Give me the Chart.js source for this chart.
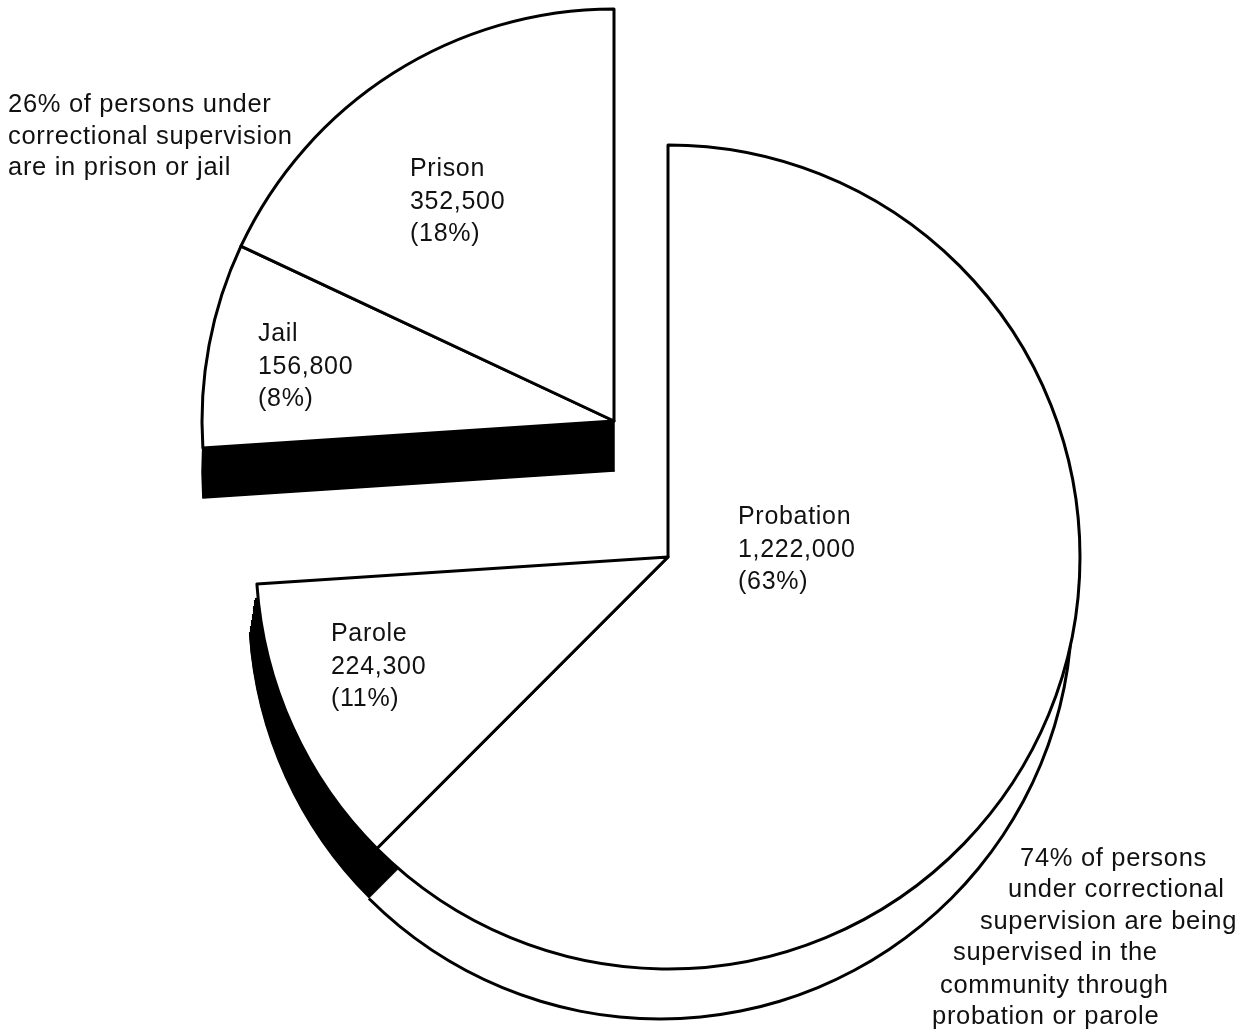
<!DOCTYPE html>
<html>
<head>
<meta charset="utf-8">
<script src="https://cdn.jsdelivr.net/npm/chart.js@4/dist/chart.umd.min.js"></script>
<style>
  html, body { margin: 0; padding: 0; width: 1247px; height: 1030px; overflow: hidden; background: #fff; }
  #stage { position: relative; width: 1247px; height: 1030px; overflow: hidden; }
  canvas.layer { position: absolute; }
  .lbl { position: absolute; font-family: "Liberation Sans", Arial, sans-serif; font-size: 25px; line-height: 32.5px; color: #111; white-space: nowrap; letter-spacing: 0.7px; }
  .note { font-size: 25.5px; letter-spacing: 0.7px; line-height: 31.5px; }
</style>
</head>
<body>
<div id="stage"></div>
<script>
// ---- data ----
const categories = ['Probation', 'Parole', 'Jail', 'Prison'];
const counts = [1222000, 224300, 156800, 352500];
const percentLabels = ['63%', '11%', '8%', '18%'];
const leftNote = ['26% of persons under', 'correctional supervision', 'are in prison or jail'];
const rightNote = ['74% of persons', 'under correctional', 'supervision are being', 'supervised in the', 'community through', 'probation or parole'];

// ---- layout (positions / styles only) ----
const R = 412;             // pie radius, px
const DEPTH = 50;          // 3D thickness, px
const MAIN_SKEW = -8;      // sideways shift of main pie's lower rim (perspective)
const BW = 3;              // outline width
const STEPS = 25;          // extrusion steps for the black parole side
const mainCenter = [668, 557];
const explodedCenter = [614, 421];
const RIM_CLIP_TOP = 570;  // lower-rim layers are only needed below this line
const labelPos = { Probation: [738, 499], Parole: [331, 616], Jail: [258, 316], Prison: [410, 151] };
const leftNotePos = [[8, 88], [8, 120], [8, 151]];
const rightNotePos = [[1020, 842], [1008, 873], [980, 905], [953, 936], [940, 969], [932, 1000]];

const stage = document.getElementById('stage');
let zCounter = 1;
const NONE = 'rgba(0,0,0,0)';

// one pie layer: show(i) -> fill colour or null, bw(i) -> border width
function addLayer(center, radius, show, bw, clipTop) {
  const size = 2 * R + 60;
  const half = size / 2;
  const top = (clipTop !== undefined) ? clipTop : center[1] - half;
  const height = Math.round(center[1] + half - top);
  const rel = center[1] - top;
  const c = document.createElement('canvas');
  c.className = 'layer';
  c.width = size; c.height = height;
  c.style.left = (center[0] - half) + 'px';
  c.style.top = top + 'px';
  c.style.zIndex = zCounter++;
  stage.appendChild(c);
  new Chart(c, {
    type: 'pie',
    data: {
      labels: categories,
      datasets: [{
        data: counts,
        backgroundColor: categories.map((_, i) => show(i) || NONE),
        borderColor: categories.map((_, i) => (show(i) && bw(i) > 0) ? '#000' : NONE),
        borderWidth: categories.map((_, i) => show(i) ? bw(i) : 0),
        borderJoinStyle: 'round',
        clip: false
      }]
    },
    options: {
      responsive: false,
      animation: false,
      events: [],
      radius: radius,
      layout: { padding: { top: 0, left: 0, right: 0, bottom: height - 2 * rel } },
      plugins: { legend: { display: false }, tooltip: { enabled: false } }
    }
  });
}

const is = name => i => categories[i] === name;
const zero = () => 0;

// ---- main pie (probation + parole) ----
const rimCenter = [mainCenter[0] + MAIN_SKEW, mainCenter[1] + DEPTH];
// probation side: white side face with outline of its lower rim
addLayer(rimCenter, R + BW / 2, i => is('Probation')(i) ? '#000' : null, zero, RIM_CLIP_TOP);
addLayer(rimCenter, R - BW / 2, i => is('Probation')(i) ? '#fff' : null, zero, RIM_CLIP_TOP);
// parole side: solid black extrusion
for (let s = 1; s <= STEPS; s++) {
  const t = s / STEPS;
  addLayer([mainCenter[0] + MAIN_SKEW * t, mainCenter[1] + DEPTH * t], R,
    i => is('Parole')(i) ? '#000' : null, zero, RIM_CLIP_TOP);
}
// top face
addLayer(mainCenter, R, i => (is('Probation')(i) || is('Parole')(i)) ? '#fff' : null, () => BW);

// ---- exploded part (jail + prison) ----
addLayer([explodedCenter[0], explodedCenter[1] + DEPTH], R,
  i => (is('Jail')(i) || is('Prison')(i)) ? '#000' : null, () => 1.5);
addLayer(explodedCenter, R, i => (is('Jail')(i) || is('Prison')(i)) ? '#fff' : null, () => BW);

// ---- text ----
function addText(lines, x, y, cls) {
  const d = document.createElement('div');
  d.className = 'lbl' + (cls ? ' ' + cls : '');
  d.style.left = x + 'px';
  d.style.top = y + 'px';
  d.style.zIndex = 100;
  d.innerHTML = lines.join('<br>');
  stage.appendChild(d);
}
categories.forEach((cat, i) => {
  const p = labelPos[cat];
  addText([cat, counts[i].toLocaleString('en-US'), '(' + percentLabels[i] + ')'], p[0], p[1]);
});
leftNote.forEach((t, i) => addText([t], leftNotePos[i][0], leftNotePos[i][1], 'note'));
rightNote.forEach((t, i) => addText([t], rightNotePos[i][0], rightNotePos[i][1], 'note'));
</script>
</body>
</html>
